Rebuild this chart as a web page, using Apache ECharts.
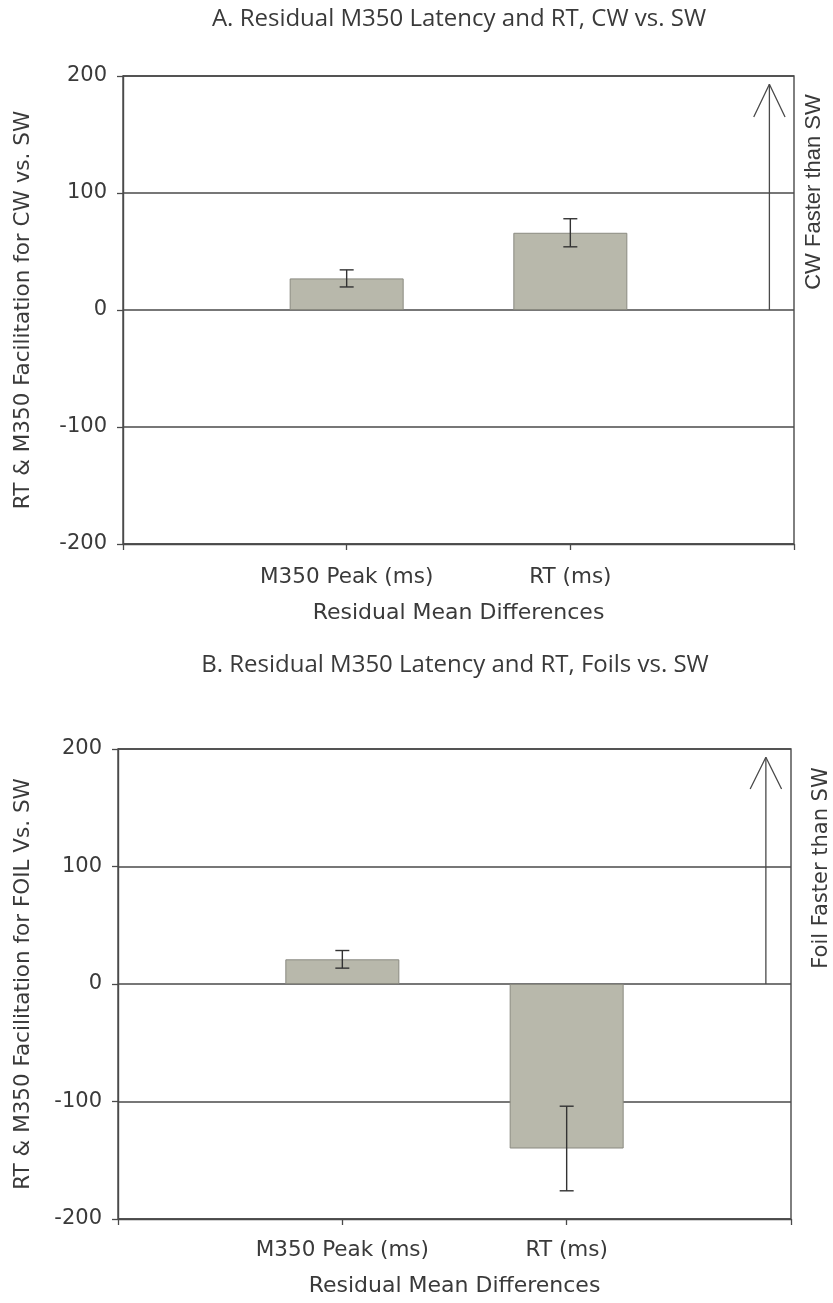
<!DOCTYPE html>
<html>
<head>
<meta charset="utf-8">
<script src="https://cdn.jsdelivr.net/npm/echarts@6/dist/echarts.min.js"></script>
<style>
html,body{margin:0;padding:0;background:#fff;}
#c{width:833px;height:1303px;}
</style>
</head>
<body>
<div id="c"></div>
<script>
// ---- data ----
const categories = ['', 'M350 Peak (ms)', 'RT (ms)', ''];
const yTicks = [-200, -100, 0, 100, 200];

const titleA = 'A. Residual M350 Latency and RT, CW vs. SW';
const titleB = 'B. Residual M350 Latency and RT, Foils vs. SW';
const yNameA = 'RT & M350 Facilitation for CW vs. SW';
const yNameB = 'RT & M350 Facilitation for FOIL Vs. SW';
const xName = 'Residual Mean Differences';
const sideA = 'CW Faster than SW';
const sideB = 'Foil Faster than SW';

const valuesA = ['-', 27, 66, '-'];
const errorsA = [null, 7.3, 12, null];
const valuesB = ['-', 21, -140, '-'];
const errorsB = [null, 7.5, 36, null];

// arrow (position along category axis 0..3, value units)
const arrowA = { x: 2.89, base: 0, tip: 193, headY: 165, headHalf: 0.07 };
const arrowB = { x: 2.888, base: 0, tip: 193, headY: 166, headHalf: 0.07 };

// ---- helpers ----
const LINE = '#4a4a4a';
const TEXT = '#3a3a3a';
const FONT = 'DejaVu Sans';

function errData(vals, errs) {
  const out = [];
  vals.forEach((v, i) => {
    if (typeof v === 'number' && errs[i] != null) out.push([i, v - errs[i], v + errs[i]]);
  });
  return out;
}

function errRender(params, api) {
  const i = api.value(0);
  const lo = api.coord([i, api.value(1)]);
  const hi = api.coord([i, api.value(2)]);
  const cap = 7;
  const st = { stroke: '#333', lineWidth: 1.4 };
  return {
    type: 'group',
    children: [
      { type: 'line', shape: { x1: lo[0], y1: lo[1], x2: hi[0], y2: hi[1] }, style: st },
      { type: 'line', shape: { x1: lo[0] - cap, y1: lo[1], x2: lo[0] + cap, y2: lo[1] }, style: st },
      { type: 'line', shape: { x1: hi[0] - cap, y1: hi[1], x2: hi[0] + cap, y2: hi[1] }, style: st }
    ]
  };
}

function makeX(gridIndex, margin, gap) {
  return {
    type: 'category', gridIndex, data: categories, boundaryGap: false,
    axisLine: { show: true, onZero: false, lineStyle: { color: LINE, width: 1.4 } },
    axisTick: { show: true, interval: 0, length: 6, lineStyle: { color: LINE, width: 1.3 } },
    axisLabel: { interval: 0, margin, fontFamily: FONT, fontSize: 21.5, color: TEXT },
    splitLine: { show: false },
    name: xName, nameLocation: 'middle', nameGap: gap,
    nameTextStyle: { fontFamily: FONT, fontSize: 22, color: TEXT }
  };
}
function makeHiddenX(gridIndex) {
  return { type: 'value', gridIndex, min: 0, max: categories.length - 1, show: false };
}
function makeY(gridIndex, name, gap) {
  return {
    type: 'value', gridIndex, min: yTicks[0], max: yTicks[yTicks.length - 1], interval: 100,
    axisLine: { show: true, lineStyle: { color: LINE, width: 1.4 } },
    axisTick: { show: true, length: 6, lineStyle: { color: LINE, width: 1.3 } },
    axisLabel: { margin: 16, fontFamily: FONT, fontSize: 21, color: TEXT,
      formatter: v => (v < 0 ? '-' + Math.abs(v) : String(v)) },
    splitLine: { show: true, lineStyle: { color: LINE, width: 1.5 } },
    name, nameLocation: 'middle', nameGap: gap,
    nameTextStyle: { fontFamily: FONT, fontSize: 21.5, color: TEXT }
  };
}
function arrowSeries(a, xAxisIndex, yAxisIndex) {
  const ls = { color: LINE, width: 1.3 };
  return [
    { type: 'line', xAxisIndex, yAxisIndex, symbol: 'none', silent: true, lineStyle: ls,
      data: [[a.x, a.base], [a.x, a.tip]] },
    { type: 'line', xAxisIndex, yAxisIndex, symbol: 'none', silent: true, lineStyle: ls,
      data: [[a.x - a.headHalf, a.headY], [a.x, a.tip], [a.x + a.headHalf, a.headY]] }
  ];
}
function barSeries(vals, xAxisIndex, yAxisIndex) {
  return { type: 'bar', xAxisIndex, yAxisIndex, data: vals, barWidth: 114,
    itemStyle: { color: '#b8b8ab', borderColor: '#8a8a80', borderWidth: 1 } };
}
function errSeries(vals, errs, xAxisIndex, yAxisIndex) {
  return { type: 'custom', xAxisIndex, yAxisIndex, data: errData(vals, errs), renderItem: errRender, z: 5 };
}

const chart = echarts.init(document.getElementById('c'), null, { renderer: 'canvas' });
chart.setOption({
  animation: false,
  backgroundColor: '#fff',
  grid: [
    { left: 123, width: 671, top: 76, height: 468, show: true, borderColor: LINE, borderWidth: 1.4 },
    { left: 118, width: 673, top: 749, height: 470, show: true, borderColor: LINE, borderWidth: 1.4 }
  ],
  xAxis: [makeX(0, 22, 58), makeX(1, 20, 56), makeHiddenX(0), makeHiddenX(1)],
  yAxis: [makeY(0, yNameA, 89), makeY(1, yNameB, 84)],
  graphic: [
    { type: 'text', x: 459, y: 19, style: { text: titleA, align: 'center', verticalAlign: 'middle',
      font: '24px "Open Sans", sans-serif', fill: TEXT } },
    { type: 'text', x: 455, y: 665, style: { text: titleB, align: 'center', verticalAlign: 'middle',
      font: '24px "Open Sans", sans-serif', fill: TEXT } },
    { type: 'text', x: 814, y: 192, rotation: Math.PI / 2, style: { text: sideA, align: 'center', verticalAlign: 'middle',
      font: '22px "Liberation Sans", Arial, sans-serif', fill: TEXT } },
    { type: 'text', x: 822, y: 868, rotation: Math.PI / 2, style: { text: sideB, align: 'center', verticalAlign: 'middle',
      font: '21px "DejaVu Sans", sans-serif', fill: TEXT } }
  ],
  series: [
    barSeries(valuesA, 0, 0),
    errSeries(valuesA, errorsA, 0, 0),
    ...arrowSeries(arrowA, 2, 0),
    barSeries(valuesB, 1, 1),
    errSeries(valuesB, errorsB, 1, 1),
    ...arrowSeries(arrowB, 3, 1)
  ]
});
</script>
</body>
</html>
